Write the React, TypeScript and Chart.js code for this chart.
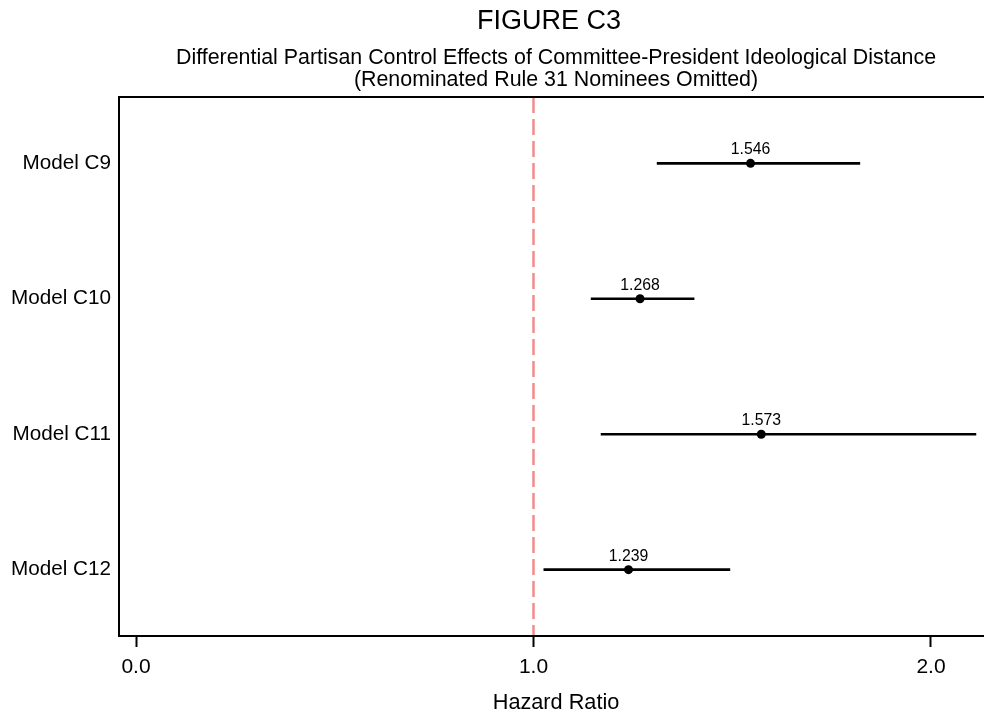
import React, { useEffect, useRef } from "react";
import { Chart, registerables } from "chart.js";

Chart.register(...registerables);

const models = ["Model C9", "Model C10", "Model C11", "Model C12"];
const estimates = [1.546, 1.268, 1.573, 1.239];
const lowerCI = [1.311, 1.145, 1.17, 1.026];
const upperCI = [1.821, 1.404, 2.113, 1.494];
const xTicks = [0, 1, 2];
const refValue = 1;
const titleText = "FIGURE C3";
const subtitleLines = [
  "Differential Partisan Control Effects of Committee-President Ideological Distance",
  "(Renominated Rule 31 Nominees Omitted)",
];
const xTitle = "Hazard Ratio";

const FONT = '"Liberation Sans", Arial, sans-serif';

export default function App() {
  const ref = useRef<HTMLCanvasElement | null>(null);

  useEffect(() => {
    document.body.style.margin = "0";
    document.body.style.overflow = "hidden";
    const canvas = ref.current;
    if (!canvas) return;

    const positions = models.map((_, i) => i);

    const overlay = {
      id: "overlay",
      beforeDatasetsDraw(chart: any) {
        const { ctx, chartArea, scales } = chart;
        const x = scales.x.getPixelForValue(refValue);
        ctx.save();
        ctx.strokeStyle = "rgba(240,110,110,0.8)";
        ctx.lineWidth = 2.5;
        ctx.setLineDash([16, 6]);
        ctx.beginPath();
        ctx.moveTo(x, chartArea.top);
        ctx.lineTo(x, chartArea.bottom);
        ctx.stroke();
        ctx.restore();
      },
      afterDraw(chart: any) {
        const { ctx, chartArea, scales } = chart;
        const cx = (chartArea.left + chartArea.right) / 2;
        ctx.save();
        ctx.strokeStyle = "#000";
        ctx.lineWidth = 2;
        ctx.beginPath();
        ctx.moveTo(chartArea.right, chartArea.top);
        ctx.lineTo(chartArea.left, chartArea.top);
        ctx.lineTo(chartArea.left, chartArea.bottom);
        ctx.lineTo(chartArea.right, chartArea.bottom);
        ctx.stroke();
        ctx.fillStyle = "#000";
        ctx.textAlign = "center";
        ctx.textBaseline = "middle";
        ctx.font = `27px ${FONT}`;
        ctx.fillText(titleText, cx - 7, 22);
        ctx.font = `21.4px ${FONT}`;
        ctx.fillText(subtitleLines[0], cx, 58);
        ctx.fillText(subtitleLines[1], cx, 80);
        ctx.font = `21.7px ${FONT}`;
        ctx.fillText(xTitle, cx, 703);
        ctx.font = `15.8px ${FONT}`;
        ctx.textBaseline = "alphabetic";
        estimates.forEach((v, i) => {
          const px = scales.x.getPixelForValue(v);
          const py = scales.y.getPixelForValue(positions[i]);
          ctx.fillText(v.toFixed(3), px, py - 9);
        });
        ctx.restore();
      },
    };

    const chart = new Chart(canvas, {
      type: "bar",
      data: {
        labels: positions as any,
        datasets: [
          {
            type: "bar",
            data: models.map((_, i) => [lowerCI[i], upperCI[i]]) as any,
            backgroundColor: "#000",
            borderWidth: 0,
            barThickness: 2,
            order: 2,
          },
          {
            type: "line",
            data: estimates,
            showLine: false,
            pointRadius: 4.5,
            pointBackgroundColor: "#000",
            pointBorderColor: "#000",
            pointBorderWidth: 0,
            order: 1,
          } as any,
        ],
      },
      options: {
        indexAxis: "y",
        animation: false,
        responsive: false,
        layout: { padding: { top: 97, right: 7, left: 0, bottom: 0 } },
        plugins: {
          legend: { display: false },
          tooltip: { enabled: false },
          title: { display: false },
        },
        scales: {
          x: {
            type: "linear",
            min: -0.0428,
            max: 2.156,
            afterBuildTicks(scale: any) {
              scale.ticks = xTicks.map((v) => ({ value: v }));
            },
            afterFit(scale: any) {
              scale.height = 77;
            },
            grid: {
              display: true,
              drawOnChartArea: false,
              drawTicks: true,
              tickLength: 11,
              tickWidth: 2,
              tickColor: "#000",
            },
            border: { display: false },
            ticks: {
              color: "#000",
              font: { family: FONT, size: 21 },
              padding: 8,
              callback: (v: any) => Number(v).toFixed(1),
            },
          },
          y: {
            type: "linear",
            reverse: true,
            offset: false,
            min: -0.49,
            max: 3.49,
            afterBuildTicks(scale: any) {
              scale.ticks = positions.map((v) => ({ value: v }));
            },
            afterFit(scale: any) {
              scale.width = 119;
            },
            grid: { display: false, drawTicks: false, offset: false },
            border: { display: false },
            ticks: {
              color: "#000",
              font: { family: FONT, size: 20.7 },
              padding: 8,
              callback: (v: any) => models[Math.round(Number(v))] ?? "",
            },
          },
        },
      },
      plugins: [overlay],
    });

    return () => chart.destroy();
  }, []);

  return (
    <div style={{ width: 1000, height: 713 }}>
      <canvas ref={ref} width={1000} height={713} />
    </div>
  );
}
